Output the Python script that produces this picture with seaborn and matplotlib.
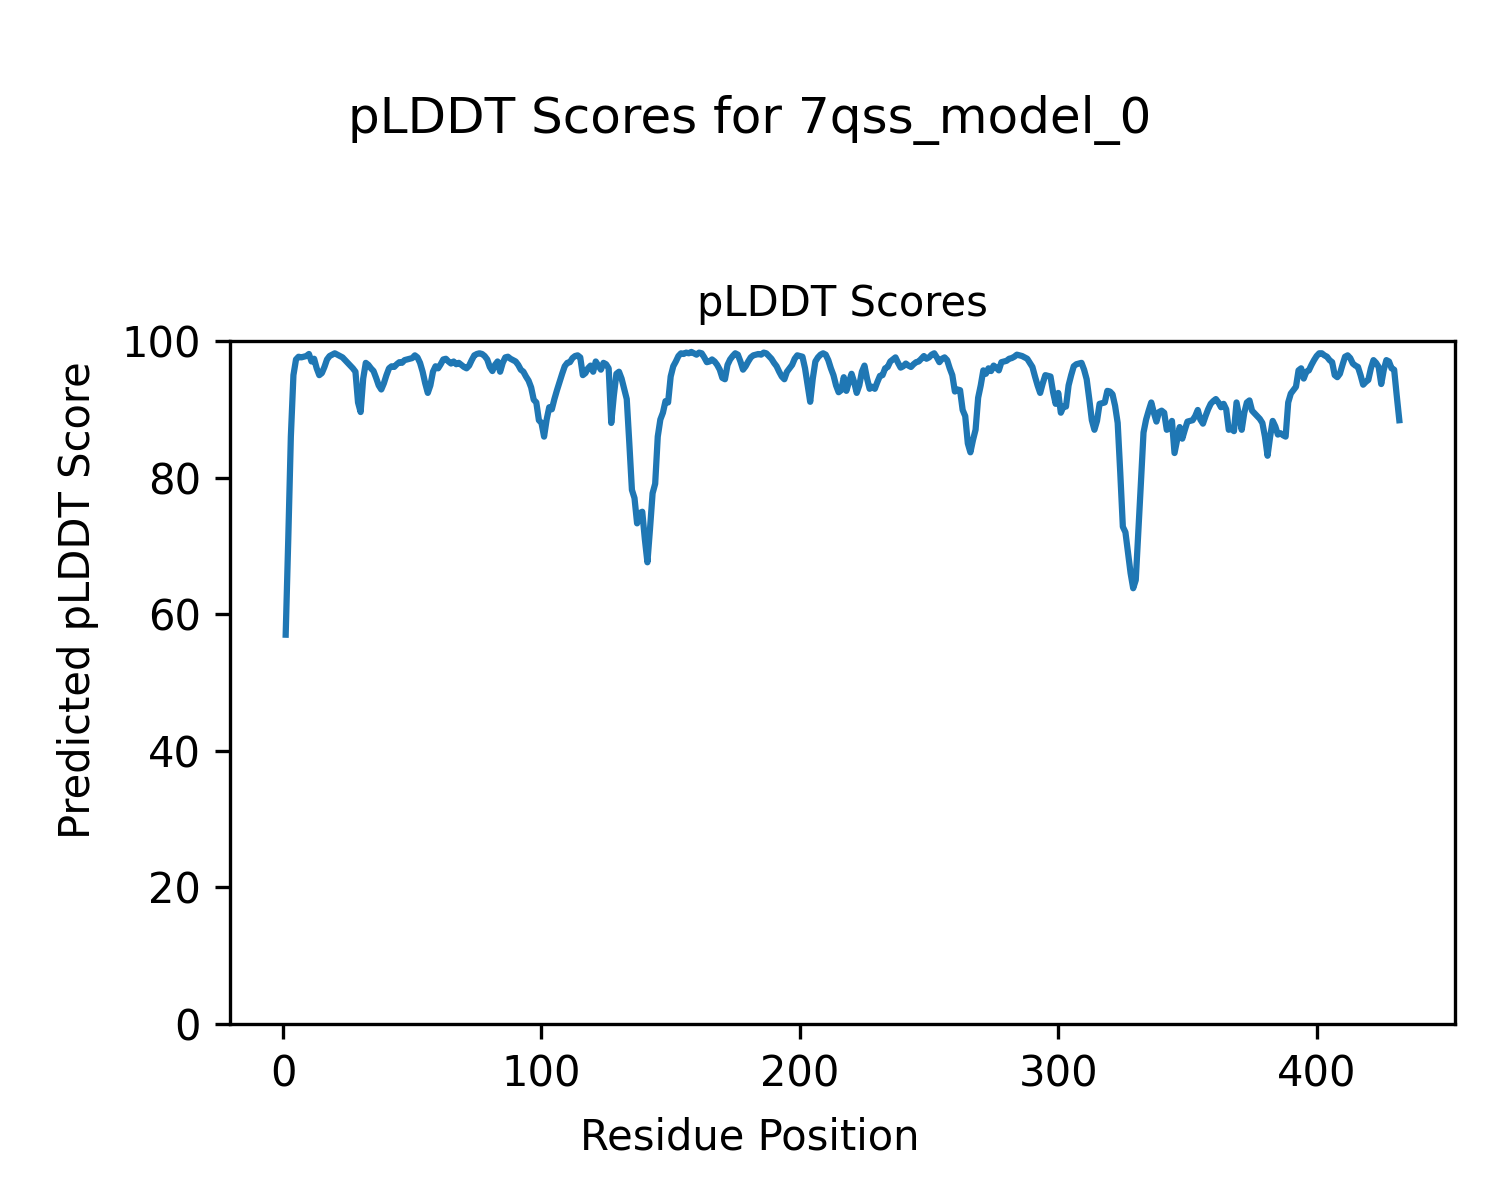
import numpy as np
import pandas as pd
import matplotlib
matplotlib.use("Agg")
import matplotlib.pyplot as plt
import seaborn as sns

model_name = "7qss_model_0"

plddt_scores = [
    57.0, 71.0, 86.0, 95.0, 97.3, 97.7, 97.6, 97.7, 97.8, 98.1,
    97.0, 97.4, 96.0, 95.0, 95.3, 96.2, 97.3, 97.8, 98.0, 98.2,
    98.0, 97.8, 97.6, 97.2, 96.8, 96.4, 96.0, 95.5, 91.0, 89.6,
    94.5, 96.8, 96.5, 96.0, 95.6, 94.6, 93.5, 92.9, 93.8, 95.0,
    96.0, 96.3, 96.2, 96.6, 96.9, 96.8, 97.2, 97.3, 97.4, 97.5,
    97.9, 97.6, 96.8, 95.5, 93.8, 92.4, 93.5, 95.5, 96.3, 96.0,
    96.6, 97.3, 97.4, 97.0, 96.7, 97.0, 96.6, 96.8, 96.5, 96.2,
    96.0, 96.4, 97.2, 97.9, 98.1, 98.2, 98.1, 97.8, 97.3, 96.2,
    95.6, 96.5, 97.0, 95.5, 96.8, 97.6, 97.7, 97.4, 97.2, 97.0,
    96.5, 95.8, 95.5, 94.8, 94.2, 93.2, 91.4, 91.0, 88.4, 88.0,
    86.0, 88.5, 90.3, 90.0, 91.5, 92.8, 94.0, 95.2, 96.3, 96.8,
    96.9, 97.5, 97.8, 97.9, 97.6, 95.0, 95.3, 96.0, 96.4, 95.5,
    97.0, 96.4, 95.8, 96.8, 96.6, 96.0, 88.0, 92.0, 95.2, 95.5,
    94.5, 93.0, 91.5, 85.0, 78.2, 77.0, 73.3, 74.8, 75.0, 71.0,
    67.6, 72.5, 77.7, 79.1, 86.0, 88.5, 89.5, 91.2, 91.0, 94.8,
    96.3, 97.0, 97.8, 98.2, 98.1, 98.3, 98.2, 98.4, 98.2, 98.0,
    98.3, 98.2, 97.6, 96.9, 97.0, 97.3, 97.0, 96.5, 95.8, 94.6,
    94.4, 96.5, 97.3, 97.8, 98.2, 98.0, 97.0, 95.8, 96.3, 97.0,
    97.6, 97.9, 98.0, 98.1, 98.0, 98.3, 98.2, 97.8, 97.4, 96.8,
    96.3, 95.5, 94.8, 94.4, 95.5, 96.0, 96.5, 97.4, 97.9, 97.8,
    97.7, 96.0, 93.5, 91.1, 94.5, 97.0, 97.6, 98.0, 98.2, 98.0,
    97.2, 96.0, 95.0, 93.5, 92.5, 92.8, 94.7, 92.7, 94.0, 95.2,
    94.0, 92.4, 93.5, 95.5, 96.4, 94.5, 93.0, 93.3, 93.0, 94.0,
    94.9, 95.0, 96.0, 96.2, 97.0, 97.3, 97.6, 96.8, 96.1, 96.3,
    96.7, 96.4, 96.2, 96.6, 96.9, 97.0, 97.4, 97.8, 97.4, 97.6,
    98.0, 98.2, 97.6, 96.9, 97.4, 97.6, 97.2, 96.0, 95.0, 92.6,
    92.9, 92.8, 89.9, 89.0, 85.0, 83.7, 85.5, 87.0, 91.7, 93.5,
    95.7, 95.2, 96.0, 95.6, 96.4, 96.1, 95.7, 96.9, 97.0, 97.1,
    97.4, 97.5, 97.7, 98.0, 97.9, 97.8, 97.6, 97.4, 96.8, 96.2,
    94.8, 93.5, 92.4, 93.8, 95.0, 94.9, 94.8, 92.5, 90.8, 92.4,
    89.5, 90.4, 90.4, 93.5, 95.0, 96.3, 96.6, 96.7, 96.8, 95.8,
    94.4, 91.5, 88.4, 87.0, 88.3, 90.8, 90.9, 91.0, 92.7, 92.6,
    92.2, 90.5, 88.0, 80.7, 72.8, 72.0, 69.0, 66.0, 63.8, 65.0,
    72.0, 79.3, 86.6, 88.5, 89.8, 91.0, 89.5, 88.2, 89.6, 89.8,
    89.5, 87.0, 87.2, 88.3, 83.6, 85.5, 87.4, 85.7, 87.0, 88.2,
    88.3, 88.4, 89.0, 89.9, 88.5, 87.9, 89.0, 90.0, 90.8, 91.2,
    91.5, 91.0, 90.3, 90.8, 90.0, 87.0, 87.2, 86.8, 91.0, 89.0,
    87.0, 89.5, 91.0, 91.3, 89.8, 89.4, 89.0, 88.6, 88.0, 86.0,
    83.2, 86.0, 88.3, 87.5, 86.3, 86.5, 86.2, 86.0, 91.0, 92.3,
    92.8, 93.3, 95.7, 96.0, 94.5, 95.5, 95.7, 96.5, 97.2, 97.8,
    98.2, 98.2, 97.9, 97.7, 97.2, 96.9, 95.0, 94.7, 95.2, 96.5,
    97.7, 97.9, 97.5, 96.7, 96.4, 96.2, 95.0, 93.6, 94.0, 94.3,
    96.0, 97.2, 96.8, 96.2, 93.7, 95.8, 97.2, 97.0, 96.0, 95.8,
    92.0, 88.4,
]
residue_positions = list(range(1, len(plddt_scores) + 1))

x_ticks = [0, 100, 200, 300, 400]
y_ticks = [0, 20, 40, 60, 80, 100]

df = pd.DataFrame({"Residue Position": residue_positions, "pLDDT": plddt_scores})

fig = plt.figure(figsize=(5, 4), dpi=300)
ax = fig.add_axes([230 / 1500, 1 - 1024 / 1200, (1455 - 230) / 1500, (1024 - 341) / 1200])

sns.lineplot(data=df, x="Residue Position", y="pLDDT", ax=ax, color="#1f77b4", linewidth=1.5)

ax.set_ylim(0, 100)
ax.set_xticks(x_ticks)
ax.set_yticks(y_ticks)
ax.set_xlabel("")
ax.set_ylabel("")
ax.set_title("pLDDT Scores", fontsize=10)
fig.suptitle(f"pLDDT Scores for {model_name}", fontsize=12, y=1 - 95 / 1200, va="top")
fig.text(0.5, 1 - 1138 / 1200, "Residue Position", ha="center", va="center", fontsize=10)
fig.text(78 / 1500, 0.5, "Predicted pLDDT Score", ha="center", va="center",
         rotation=90, fontsize=10)

fig.savefig("out.png", dpi=300)
